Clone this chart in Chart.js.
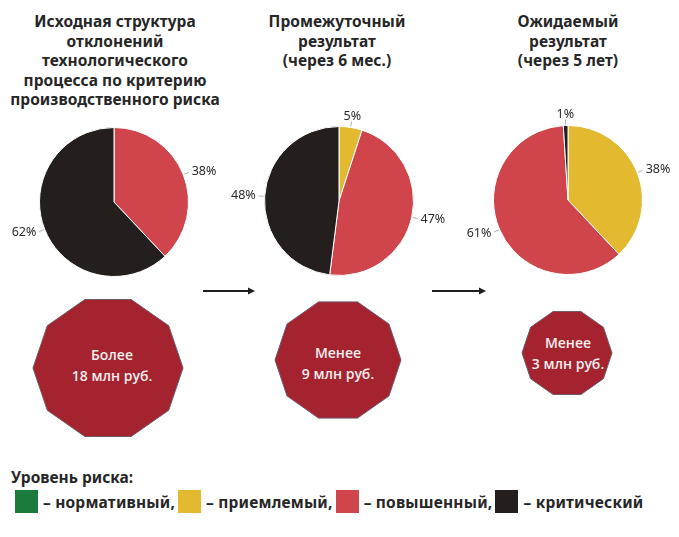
<!DOCTYPE html>
<html lang="ru">
<head>
<meta charset="utf-8">
<script src="https://cdn.jsdelivr.net/npm/chart.js@4.4.1/dist/chart.umd.min.js"></script>
<style>
  html, body { margin: 0; padding: 0; background: #fff; }
  body { width: 679px; height: 537px; position: relative; overflow: hidden; font-family: "Noto Sans", sans-serif; color: #262626; }
  .title { position: absolute; top: 12px; width: 240px; text-align: center; font-weight: 700; font-size: 15.5px; letter-spacing: 0.05px; line-height: 19.5px; }
  .pie { position: absolute; width: 220px; height: 190px; }
  #shapes { position: absolute; left: 0; top: 0; }
  .cost { position: absolute; width: 140px; text-align: center; color: #f6eeee; font-family: "Open Sans", sans-serif; font-weight: 600; font-size: 14px; line-height: 21px; }
  #legendTitle { position: absolute; left: 11px; top: 466px; font-weight: 700; font-size: 15.5px; }
  #legend { position: absolute; left: 15px; top: 490px; display: flex; align-items: center; font-weight: 700; font-size: 15.5px; letter-spacing: 0.2px; white-space: nowrap; }
  #legend .sw { width: 23px; height: 23px; margin-right: 5px; }
  #legend .txt { margin-right: 3px; }
</style>
</head>
<body>
<div class="title" style="left:-5px">Исходная структура<br>отклонений<br>технологического<br>процесса по критерию<br>производственного риска</div>
<div class="title" style="left:217px">Промежуточный<br>результат<br>(через 6 мес.)</div>
<div class="title" style="left:448px">Ожидаемый<br>результат<br>(через 5 лет)</div>

<svg id="shapes" width="679" height="537"></svg>

<div class="pie" style="left:4px; top:107px"><canvas id="pieInitial"></canvas></div>
<div class="pie" style="left:229px; top:106px"><canvas id="pieMid"></canvas></div>
<div class="pie" style="left:458px; top:105px"><canvas id="pieExpected"></canvas></div>

<div class="cost" style="left:42px; top:344px">Более<br>18 млн руб.</div>
<div class="cost" style="left:268px; top:342px">Менее<br>9 млн руб.</div>
<div class="cost" style="left:498px; top:332px">Менее<br>3 млн руб.</div>

<div id="legendTitle">Уровень риска:</div>
<div id="legend"></div>

<script>
// уровни риска
const categories = ['нормативный', 'приемлемый', 'повышенный', 'критический'];
const riskColors = ['#1b7a3c', '#e3b92f', '#d0444b', '#241f1c'];

// доли, %
const initialShares = [0, 0, 38, 62];
const midShares = [0, 5, 47, 48];
const expectedShares = [0, 38, 61, 1];

// подписи снаружи круга
const outLabelsPlugin = {
  id: 'outLabels',
  afterDatasetsDraw(chart) {
    const { ctx } = chart;
    const ds = chart.data.datasets[0];
    const meta = chart.getDatasetMeta(0);
    ctx.save();
    ctx.font = '12.5px "Noto Sans", sans-serif';
    ctx.textBaseline = 'middle';
    meta.data.forEach((arc, i) => {
      const v = ds.data[i];
      if (!v) return;
      const p = arc.getProps(['x', 'y', 'startAngle', 'endAngle', 'outerRadius'], true);
      const mid = (p.startAngle + p.endAngle) / 2;
      const cx = Math.cos(mid), cy = Math.sin(mid);
      const r = p.outerRadius;
      // короткая выноска
      ctx.strokeStyle = '#9a9a9a';
      ctx.lineWidth = 0.8;
      ctx.beginPath();
      ctx.moveTo(p.x + cx * (r + 1), p.y + cy * (r + 1));
      ctx.lineTo(p.x + cx * (r + 6), p.y + cy * (r + 6));
      ctx.stroke();
      let d = r + 9;
      if (cx > 0.25) ctx.textAlign = 'left';
      else if (cx < -0.25) ctx.textAlign = 'right';
      else { ctx.textAlign = 'center'; d = r + 11; }
      ctx.fillStyle = '#2a2a2a';
      ctx.fillText(v + '%', p.x + cx * d, p.y + cy * d);
    });
    ctx.restore();
  }
};

function createPie(id, shares) {
  return new Chart(document.getElementById(id), {
    type: 'pie',
    data: {
      labels: categories,
      datasets: [{
        data: shares,
        backgroundColor: riskColors,
        borderColor: '#ffffff',
        borderWidth: 1
      }]
    },
    options: {
      responsive: true,
      maintainAspectRatio: false,
      animation: false,
      layout: { padding: { left: 35, right: 35, top: 20, bottom: 20 } },
      plugins: {
        legend: { display: false },
        tooltip: { enabled: false }
      }
    },
    plugins: [outLabelsPlugin]
  });
}

createPie('pieInitial', initialShares);
createPie('pieMid', midShares);
createPie('pieExpected', expectedShares);

// десятиугольники и стрелки
const svg = document.getElementById('shapes');
const NS = 'http://www.w3.org/2000/svg';
function decagon(cx, cy, R, sy) {
  const pts = [];
  for (let k = 0; k < 10; k++) {
    const a = k * Math.PI / 5;
    pts.push((cx + R * Math.cos(a)).toFixed(1) + ',' + (cy + R * sy * Math.sin(a)).toFixed(1));
  }
  const poly = document.createElementNS(NS, 'polygon');
  poly.setAttribute('points', pts.join(' '));
  poly.setAttribute('fill', '#a4232f');
  poly.setAttribute('stroke', '#6f5a68');
  poly.setAttribute('stroke-width', '1');
  svg.appendChild(poly);
}
decagon(108, 368, 75, 0.96);
decagon(338, 360, 63, 0.97);
decagon(567, 353, 45, 0.97);

function arrow(x1, x2, y) {
  const line = document.createElementNS(NS, 'line');
  line.setAttribute('x1', x1); line.setAttribute('x2', x2 - 6);
  line.setAttribute('y1', y); line.setAttribute('y2', y);
  line.setAttribute('stroke', '#1e1e1e'); line.setAttribute('stroke-width', '2');
  svg.appendChild(line);
  const head = document.createElementNS(NS, 'polygon');
  head.setAttribute('points', `${x2},${y} ${x2 - 7},${y - 3.5} ${x2 - 7},${y + 3.5}`);
  head.setAttribute('fill', '#1e1e1e');
  svg.appendChild(head);
}
arrow(203, 255, 291);
arrow(432, 486, 291);

// легенда
const legend = document.getElementById('legend');
categories.forEach((c, i) => {
  const sw = document.createElement('div');
  sw.className = 'sw';
  sw.style.background = riskColors[i];
  const t = document.createElement('span');
  t.className = 'txt';
  t.textContent = '– ' + c + (i < categories.length - 1 ? ',' : '');
  legend.appendChild(sw);
  legend.appendChild(t);
});
</script>
</body>
</html>
